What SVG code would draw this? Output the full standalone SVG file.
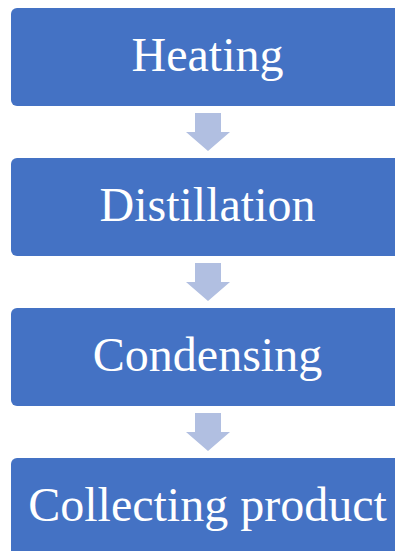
<svg xmlns="http://www.w3.org/2000/svg" width="395" height="551" viewBox="0 0 395 551">
<style>
.box{fill:#4472C4;}
.lbl{fill:#FFFFFF;font-family:"Liberation Serif","Times New Roman",serif;font-size:48px;text-anchor:middle;}
.arr{fill:#B1BFE1;}
</style>
<rect width="395" height="551" fill="#FFFFFF"/>
<g id="connectors">
<polygon class="arr" points="195,113 221,113 221,132 230,132 208,151 186,132 195,132"/>
<polygon class="arr" points="195,263 221,263 221,282 230,282 208,301 186,282 195,282"/>
<polygon class="arr" points="195,413 221,413 221,432 230,432 208,451 186,432 195,432"/>
</g>
<g id="heating">
<rect class="box" x="11" y="8" width="393" height="98" rx="6"/>
<text class="lbl" x="207.5" y="71">Heating</text>
</g>
<g id="distillation">
<rect class="box" x="11" y="158" width="393" height="98" rx="6"/>
<text class="lbl" x="207.5" y="221">Distillation</text>
</g>
<g id="condensing">
<rect class="box" x="11" y="308" width="393" height="98" rx="6"/>
<text class="lbl" x="207.5" y="371">Condensing</text>
</g>
<g id="collecting">
<rect class="box" x="11" y="458" width="393" height="98" rx="6"/>
<text class="lbl" x="207.5" y="521">Collecting product</text>
</g>
</svg>
